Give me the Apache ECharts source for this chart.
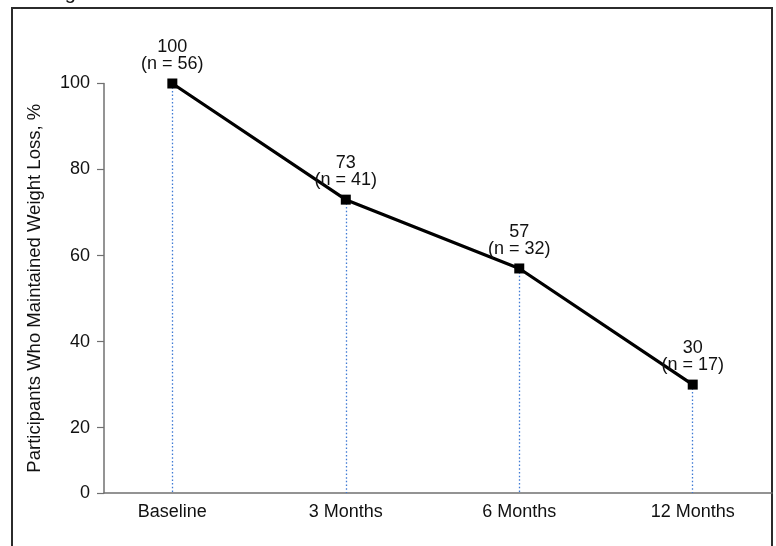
<!DOCTYPE html>
<html>
<head>
<meta charset="utf-8">
<script src="https://cdn.jsdelivr.net/npm/echarts@6/dist/echarts.min.js"></script>
<style>
html,body{margin:0;padding:0;background:#fff;}
#chart{width:776px;height:546px;}
</style>
</head>
<body>
<div id="chart"></div>
<script>
var categories = ['Baseline', '3 Months', '6 Months', '12 Months'];
var percentValues = [100, 73, 57, 30];
var nValues = [56, 41, 32, 17];
var yTickValues = [4.8, 20, 40, 60, 80, 100];
var yTickLabels = ['0', '20', '40', '60', '80', '100'];
var yAxisTitle = 'Participants Who Maintained Weight Loss, %';
var headerText = 'Figure';

var FONT = '"Liberation Sans", Arial, Helvetica, sans-serif';
var yMin = yTickValues[0];
var yMax = yTickValues[yTickValues.length - 1];

var chart = echarts.init(document.getElementById('chart'), null, {renderer: 'canvas'});

var points = percentValues.map(function (v, i) { return [i, v]; });
var drops = percentValues.map(function (v, i) {
  return [{coord: [i, v]}, {coord: [i, yMin]}];
});

chart.setOption({
  animation: false,
  backgroundColor: '#ffffff',
  textStyle: {fontFamily: FONT},
  graphic: [
    {
      type: 'rect',
      shape: {x: 12, y: 8, width: 760, height: 560},
      style: {fill: 'none', stroke: '#2b2b2b', lineWidth: 2},
      silent: true, z: 0
    },
    {
      type: 'text',
      left: 48, top: -17,
      style: {text: headerText, font: '20px ' + FONT, fill: '#111'},
      silent: true
    }
  ],
  grid: {left: 104, right: 4, top: 83.5, bottom: 53, containLabel: false},
  xAxis: {
    type: 'value',
    min: -0.394,
    max: 3.457,
    splitLine: {show: false},
    axisLine: {show: true, onZero: false, lineStyle: {color: '#707070', width: 1.5}},
    axisTick: {show: false},
    axisLabel: {
      customValues: categories.map(function (c, i) { return i; }),
      formatter: function (v) { return categories[Math.round(v)]; },
      color: '#111', fontSize: 18, fontFamily: FONT, margin: 10
    }
  },
  yAxis: {
    type: 'value',
    min: yMin,
    max: yMax,
    name: yAxisTitle,
    nameLocation: 'middle',
    nameGap: 60,
    nameTextStyle: {color: '#111', fontSize: 18.5, fontFamily: FONT},
    splitLine: {show: false},
    axisLine: {show: true, onZero: false, lineStyle: {color: '#707070', width: 1.5}},
    axisTick: {show: true, length: 7, customValues: yTickValues, lineStyle: {color: '#707070', width: 1.2}},
    axisLabel: {
      customValues: yTickValues,
      formatter: function (v) {
        var idx = yTickValues.indexOf(v);
        return idx >= 0 ? yTickLabels[idx] : '';
      },
      color: '#111', fontSize: 18, fontFamily: FONT, margin: 14
    }
  },
  series: [{
    type: 'line',
    data: points,
    symbol: 'rect',
    symbolSize: 10,
    lineStyle: {color: '#000', width: 3.2},
    itemStyle: {color: '#000'},
    z: 5,
    label: {
      show: true,
      position: 'top',
      distance: 6,
      fontSize: 18,
      lineHeight: 17,
      color: '#111',
      fontFamily: FONT,
      formatter: function (p) {
        return percentValues[p.dataIndex] + '\n(n = ' + nValues[p.dataIndex] + ')';
      }
    },
    markLine: {
      silent: true,
      symbol: 'none',
      label: {show: false},
      lineStyle: {color: '#3f7ad4', type: [1.5, 2.2], width: 1.3},
      z: 1,
      data: drops
    }
  }]
});
</script>
</body>
</html>
